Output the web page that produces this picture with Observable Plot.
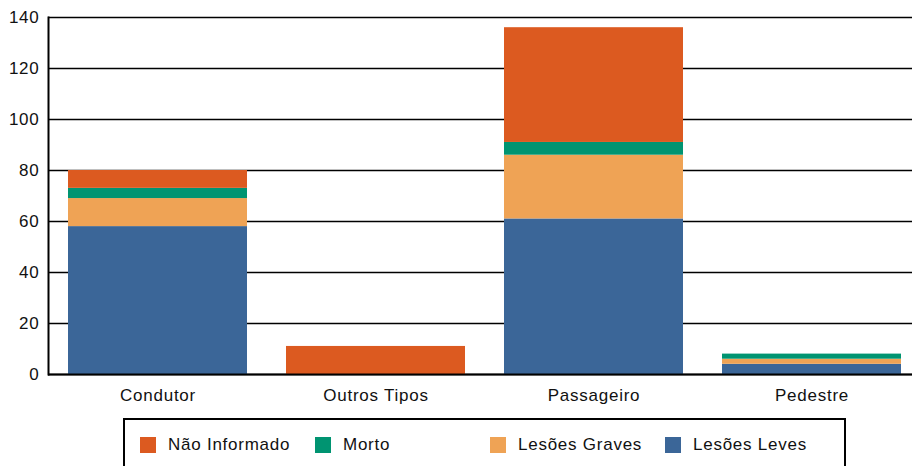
<!DOCTYPE html>
<html>
<head>
<meta charset="utf-8">
<script src="https://cdn.jsdelivr.net/npm/d3@7"></script>
<script src="https://cdn.jsdelivr.net/npm/@observablehq/plot@0.6"></script>
<style>
  html, body { margin: 0; padding: 0; background: #fff; }
  body { width: 912px; height: 466px; overflow: hidden; position: relative; font-family: "Liberation Sans", Arial, sans-serif; }
  #chart svg { display: block; }
  #legend { position: absolute; left: 123px; top: 418px; width: 723px; height: 64px; border: 2px solid #000; box-sizing: border-box; }
  .item { position: absolute; top: 15px; display: flex; align-items: center; font-size: 17px; letter-spacing: 0.75px; color: #111; white-space: nowrap; }
  .sw { width: 16px; height: 16px; margin-right: 12px; }
</style>
</head>
<body>
<div id="chart"></div>
<div id="legend"></div>
<script>
// Categories (x axis)
const categories = ["Condutor", "Outros Tipos", "Passageiro", "Pedestre"];
// Series (stack order bottom -> top)
const series = ["Lesões Leves", "Lesões Graves", "Morto", "Não Informado"];
// Values per series, aligned with categories
const lesoesLeves   = [58, 0, 61, 4];
const lesoesGraves  = [11, 0, 25, 2];
const morto         = [4, 0, 5, 2];
const naoInformado  = [7, 11, 45, 0];
// Y ticks
const yTicks = [0, 20, 40, 60, 80, 100, 120, 140];
// Legend order
const legendOrder = ["Não Informado", "Morto", "Lesões Graves", "Lesões Leves"];
const colors = {
  "Não Informado": "#DC5A20",
  "Morto": "#009471",
  "Lesões Graves": "#EFA355",
  "Lesões Leves": "#3B6698"
};

const valuesBySeries = {
  "Lesões Leves": lesoesLeves,
  "Lesões Graves": lesoesGraves,
  "Morto": morto,
  "Não Informado": naoInformado
};
const rows = [];
for (const s of series) {
  categories.forEach((c, i) => rows.push({category: c, series: s, value: valuesBySeries[s][i]}));
}

const W = 912, H = 410;
const chart = Plot.plot({
  width: W,
  height: H,
  marginTop: 17,
  marginBottom: 36,
  marginLeft: 48,
  marginRight: 0,
  style: {fontFamily: "'Liberation Sans', Arial, sans-serif", fontSize: "17px", letterSpacing: "0.75px", color: "#111", background: "#fff"},
  x: {domain: categories, range: [48, 921], paddingInner: 0.18, paddingOuter: 0.09, label: null},
  y: {domain: [0, 140], label: null},
  color: {domain: series, range: series.map(s => colors[s])},
  marks: [
    Plot.ruleY(yTicks, {stroke: "#000", strokeWidth: 1.6}),
    Plot.barY(rows, {x: "category", y: "value", fill: "series", order: series}),
    Plot.ruleY([0], {stroke: "#000", strokeWidth: 2}),
    Plot.frame({anchor: "left", stroke: "#000", strokeWidth: 2}),
    Plot.axisY(yTicks, {tickSize: 0, tickPadding: 9, label: null, fontSize: 17}),
    Plot.axisX({tickSize: 0, tickPadding: 14, label: null, fontSize: 17})
  ]
});
document.getElementById("chart").appendChild(chart);

const legend = document.getElementById("legend");
legendOrder.forEach((s, i) => {
  const it = document.createElement("div");
  it.className = "item";
  it.style.left = (15 + i * 175) + "px";
  const sw = document.createElement("div");
  sw.className = "sw";
  sw.style.background = colors[s];
  const t = document.createElement("span");
  t.textContent = s;
  it.appendChild(sw);
  it.appendChild(t);
  legend.appendChild(it);
});
</script>
</body>
</html>
